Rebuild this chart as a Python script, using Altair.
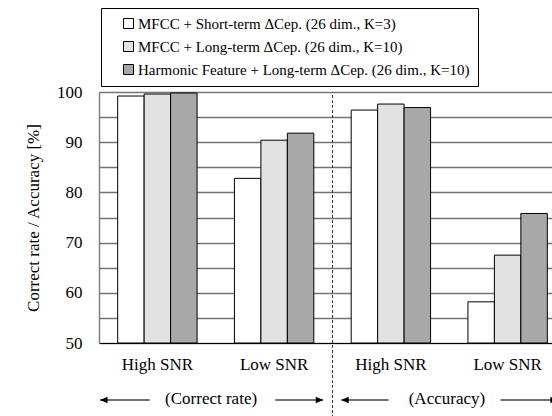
import altair as alt
import pandas as pd

# ---- data ----
groups = ["Correct|High SNR", "Correct|Low SNR", "Accuracy|High SNR", "Accuracy|Low SNR"]
series = [
    "MFCC + Short-term \u0394Cep. (26 dim., K=3)",
    "MFCC + Long-term \u0394Cep. (26 dim., K=10)",
    "Harmonic Feature + Long-term \u0394Cep. (26 dim., K=10)",
]
short_term = [99.2, 82.8, 96.4, 58.2]
long_term = [99.6, 90.4, 97.6, 67.5]
harmonic = [99.8, 91.8, 96.9, 75.8]

y_ticks = [50, 55, 60, 65, 70, 75, 80, 85, 90, 95, 100]

# annotation texts (positions in group units along the x axis)
ann_text = ["(Correct rate)", "(Accuracy)"]
ann_center = [0.96, 2.98]
arrow_start = [0.01, 1.51, 2.075, 3.44]
arrow_end = [0.435, 1.92, 2.48, 3.93]
arrow_dir = ["left", "right", "left", "right"]
divider = [2.0]

rows = []
for g_i, g in enumerate(groups):
    for s, vals in zip(series, [short_term, long_term, harmonic]):
        rows.append({"group": g, "series": s, "value": vals[g_i]})
df = pd.DataFrame(rows)

ann_df = pd.DataFrame({"text": ann_text, "pos": ann_center})
arr_df = pd.DataFrame({"x1": arrow_start, "x2": arrow_end, "dir": arrow_dir})
arr_df["tip"] = [a if d == "left" else b for a, b, d in zip(arrow_start, arrow_end, arrow_dir)]
div_df = pd.DataFrame({"pos": divider})

FONT = "Liberation Serif"
W, H = 453, 251
RANGE = [0, 467]

xq = alt.Scale(domain=[0, 4], range=RANGE, nice=False, zero=False)

bars = alt.Chart(df).mark_bar(stroke="black", strokeWidth=1).encode(
    x=alt.X("group:N", sort=groups,
            scale=alt.Scale(range=RANGE, paddingInner=0.32, paddingOuter=0.16),
            axis=alt.Axis(title=None, labelExpr="split(datum.label, '|')[1]",
                          labelAngle=0, ticks=False, tickSize=0, labelPadding=13,
                          domainColor="black", domainWidth=1.2,
                          labelFont=FONT, labelFontSize=17, labelColor="black",
                          grid=False)),
    xOffset=alt.XOffset("series:N", sort=series,
                        scale=alt.Scale(paddingInner=0, paddingOuter=0)),
    y=alt.Y("value:Q", scale=alt.Scale(domain=[50, 100], nice=False, zero=False),
            axis=alt.Axis(title="Correct rate / Accuracy [%]", values=y_ticks,
                          labelExpr="datum.value % 10 == 0 ? datum.label : ''",
                          ticks=False, tickSize=0, labelPadding=17,
                          grid=True, gridColor="#737373", gridWidth=1.6,
                          domainColor="#808080", domainWidth=1.5,
                          labelFont=FONT, labelFontSize=17, labelColor="black",
                          titleFont=FONT, titleFontSize=17, titleFontWeight="normal",
                          titleColor="black", titlePadding=14)),
    y2=alt.datum(50),
    fill=alt.Fill("series:N", sort=series,
                  scale=alt.Scale(domain=series, range=["white", "#e2e2e2", "#a8a8a8"]),
                  legend=alt.Legend(title=None, orient="none", legendX=2, legendY=-84,
                                    symbolType="square", symbolSize=100,
                                    symbolStrokeColor="black", symbolStrokeWidth=1,
                                    symbolOffset=12, labelOffset=2,
                                    labelFont=FONT, labelFontSize=15, labelColor="black",
                                    labelLimit=600, rowPadding=7, padding=8,
                                    labelExpr="datum.label + '   '",
                                    strokeColor="black", fillColor="white")),
)

divider_rule = alt.Chart(div_df).mark_rule(color="#333333", strokeWidth=1, strokeDash=[3, 2]).encode(
    x=alt.X("pos:Q", scale=xq, axis=None),
    y=alt.value(3),
    y2=alt.value(324),
)

ann_texts = alt.Chart(ann_df).mark_text(font=FONT, fontSize=17, color="black", baseline="middle").encode(
    x=alt.X("pos:Q", scale=xq, axis=None),
    y=alt.value(307),
    text="text:N",
)

arrow_lines = alt.Chart(arr_df).mark_rule(color="#444444", strokeWidth=1.3).encode(
    x=alt.X("x1:Q", scale=xq, axis=None),
    x2="x2:Q",
    y=alt.value(308),
)

heads_left = alt.Chart(arr_df).transform_filter("datum.dir == 'left'").mark_point(
    shape="M0,0 L1,-0.45 L1,0.45 Z", filled=True, color="black", size=220, opacity=1
).encode(
    x=alt.X("tip:Q", scale=xq, axis=None),
    y=alt.value(308),
)

heads_right = alt.Chart(arr_df).transform_filter("datum.dir == 'right'").mark_point(
    shape="M0,0 L-1,-0.45 L-1,0.45 Z", filled=True, color="black", size=220, opacity=1
).encode(
    x=alt.X("tip:Q", scale=xq, axis=None),
    y=alt.value(308),
)

chart = alt.layer(bars, divider_rule, arrow_lines, heads_left, heads_right, ann_texts).resolve_scale(
    x="independent"
).properties(
    width=W, height=H,
    autosize=alt.AutoSizeParams(type="none"),
    padding={"left": 99, "top": 92, "right": 0, "bottom": 73},
).configure_view(strokeWidth=0).configure(background="white")

chart.save("out.html", embed_options={"renderer": "svg", "actions": False})
